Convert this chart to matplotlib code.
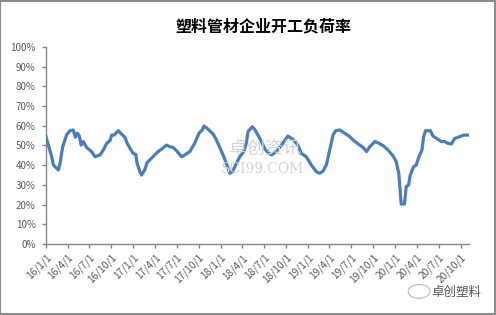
import matplotlib
matplotlib.use("Agg")
import matplotlib.pyplot as plt
import pandas as pd
from matplotlib.ticker import PercentFormatter
from matplotlib.patches import Rectangle, Circle

plt.rcParams['font.family'] = ['Noto Sans CJK SC', 'DejaVu Sans']

title = "塑料管材企业开工负荷率"

dates = [
    "2016-01-01", "2016-01-11", "2016-01-25", "2016-02-01", "2016-02-22", "2016-02-29",
    "2016-03-11", "2016-03-27", "2016-04-10", "2016-04-24", "2016-05-03", "2016-05-11",
    "2016-05-19", "2016-05-27", "2016-06-05", "2016-06-19", "2016-07-10", "2016-07-24",
    "2016-08-14", "2016-08-28", "2016-09-11", "2016-09-25", "2016-10-02", "2016-10-12",
    "2016-10-30", "2016-11-13", "2016-11-26", "2016-12-06", "2016-12-20", "2016-12-31",
    "2017-01-11", "2017-01-16", "2017-01-28", "2017-02-04", "2017-02-17", "2017-02-27",
    "2017-03-17", "2017-03-31", "2017-04-14", "2017-04-28", "2017-05-19", "2017-06-02",
    "2017-06-16", "2017-06-30", "2017-07-21", "2017-08-04", "2017-08-25", "2017-09-14",
    "2017-10-02", "2017-10-16", "2017-10-23", "2017-11-05", "2017-11-16", "2017-11-30",
    "2017-12-11", "2017-12-28", "2018-01-14", "2018-01-27", "2018-02-08", "2018-02-19",
    "2018-03-08", "2018-03-22", "2018-04-07", "2018-04-18", "2018-04-25", "2018-05-13",
    "2018-05-23", "2018-06-06", "2018-06-20", "2018-07-06", "2018-07-22", "2018-08-01",
    "2018-08-22", "2018-09-12", "2018-10-09", "2018-10-30", "2018-11-20", "2018-12-04",
    "2018-12-25", "2019-01-15", "2019-02-05", "2019-02-19", "2019-03-05", "2019-03-19",
    "2019-04-02", "2019-04-16", "2019-04-27", "2019-05-14", "2019-06-04", "2019-06-22",
    "2019-07-09", "2019-07-30", "2019-08-20", "2019-09-03", "2019-09-17", "2019-10-08",
    "2019-10-26", "2019-11-14", "2019-12-02", "2019-12-23", "2020-01-05", "2020-01-16",
    "2020-01-26", "2020-02-09", "2020-02-16", "2020-02-26", "2020-03-04", "2020-03-18",
    "2020-03-29", "2020-04-09", "2020-04-22", "2020-04-29", "2020-05-07", "2020-05-27",
    "2020-06-07", "2020-06-28", "2020-07-12", "2020-07-26", "2020-08-09", "2020-08-23",
    "2020-09-06", "2020-09-27", "2020-10-14", "2020-11-05",
]

rates = [
    54.5, 50.2, 44.3, 40.1, 37.6, 41.0,
    49.4, 55.3, 57.5, 57.9, 54.2, 56.2,
    55.0, 50.2, 52.0, 49.0, 46.9, 44.3,
    45.2, 47.7, 51.1, 52.5, 55.3, 55.3,
    57.5, 55.7, 54.2, 51.1, 48.1, 46.0,
    45.4, 41.0, 36.7, 35.0, 37.6, 41.3,
    43.5, 45.2, 46.9, 48.1, 50.2, 49.4,
    49.0, 47.4, 44.3, 45.2, 46.9, 51.1,
    56.2, 57.9, 59.9, 58.7, 57.5, 55.8,
    53.6, 49.0, 44.3, 40.1, 35.9, 36.7,
    41.0, 44.3, 46.9, 51.1, 57.0, 59.5,
    58.2, 55.3, 52.0, 48.0, 46.0, 45.2,
    46.9, 50.2, 54.8, 53.1, 50.2, 46.0,
    44.3, 40.1, 36.7, 35.9, 37.0, 40.1,
    47.7, 55.3, 57.5, 57.9, 56.2, 54.8,
    52.8, 50.8, 49.0, 46.9, 49.4, 52.0,
    51.1, 49.7, 47.7, 44.7, 41.8, 35.9,
    20.3, 20.3, 29.1, 30.0, 35.0, 39.2,
    40.1, 44.3, 47.7, 54.5, 57.5, 57.5,
    54.8, 53.1, 52.0, 52.0, 51.1, 50.8,
    53.6, 54.5, 55.3, 55.3,
]

y_ticks = [0, 10, 20, 30, 40, 50, 60, 70, 80, 90, 100]

x = pd.to_datetime(dates)
tick_dates = pd.date_range("2016-01-01", "2020-10-01", freq="QS")
tick_labels = [f"{d.year % 100}/{d.month}/{d.day}" for d in tick_dates]

fig = plt.figure(figsize=(4.96, 3.15), dpi=100)
fig.patch.set_facecolor("white")
fig.add_artist(Rectangle((0.001, 0.002), 0.996, 0.995, transform=fig.transFigure,
                         fill=False, edgecolor="#8c8c8c", linewidth=1.5))

ax = fig.add_axes([0.0927, 0.2254, 0.853, 0.6254])

# watermarks
fig.add_artist(Rectangle((0.375, 0.44), 0.055, 0.13, transform=fig.transFigure,
                         facecolor="#dedede", edgecolor="none", zorder=0))
fig.text(0.535, 0.53, "卓创资讯", fontsize=13, color="#d4d4d4", ha="center", va="center", zorder=0)
fig.text(0.53, 0.465, "SCI99.COM", fontsize=10, color="#d4d4d4", ha="center", va="center",
         family="DejaVu Serif", zorder=0)
fig.add_artist(Circle((0.845, 0.075), 0.022, transform=fig.transFigure,
                      facecolor="white", edgecolor="#bbbbbb", linewidth=0.8))
fig.text(0.92, 0.07, "卓创塑料", fontsize=9, color="#555555", ha="center", va="center")

ax.plot(x, rates, color="#4A7EBB", linewidth=2.3, solid_joinstyle="round", zorder=3)

ax.set_ylim(0, 100)
ax.set_yticks(y_ticks)
ax.yaxis.set_major_formatter(PercentFormatter(decimals=0))
ax.set_xlim(pd.Timestamp("2016-01-01"), x[-1])
ax.set_xticks(tick_dates)
ax.set_xticklabels(tick_labels, rotation=45, ha="right", va="top", rotation_mode="anchor")

for s in ["top", "right"]:
    ax.spines[s].set_visible(False)
for s in ["left", "bottom"]:
    ax.spines[s].set_color("#868686")
    ax.spines[s].set_linewidth(1.0)
ax.tick_params(axis="both", colors="#868686", labelcolor="#595959", labelsize=7,
               length=3, width=1.0)
ax.tick_params(axis="y", pad=4.5)
ax.tick_params(axis="x", pad=3, labelsize=7.3)

fig.text(0.53, 0.915, title, fontsize=11.5, fontweight="bold", ha="center", va="center",
         color="black")

fig.savefig("out.png", dpi=100)
